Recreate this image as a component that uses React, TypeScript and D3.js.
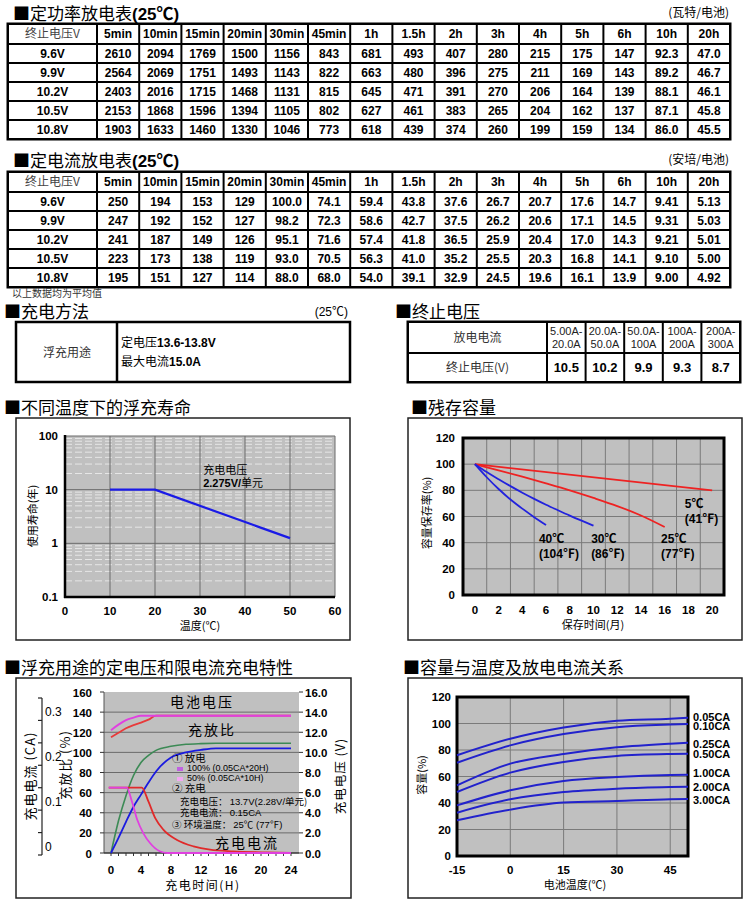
import React from 'react';
import * as d3 from 'd3';

const LATIN = "'Liberation Sans', Arial, 'Noto Sans CJK SC', sans-serif";
const CJK = "'Noto Sans CJK SC', 'Liberation Sans', sans-serif";

// ---------- Data ----------
const durations = ["5min","10min","15min","20min","30min","45min","1h","1.5h","2h","3h","4h","5h","6h","10h","20h"];
const endVoltages = ["9.6V","9.9V","10.2V","10.5V","10.8V"];
const powerRows = [
  ["2610","2094","1769","1500","1156","843","681","493","407","280","215","175","147","92.3","47.0"],
  ["2564","2069","1751","1493","1143","822","663","480","396","275","211","169","143","89.2","46.7"],
  ["2403","2016","1715","1468","1131","815","645","471","391","270","206","164","139","88.1","46.1"],
  ["2153","1868","1596","1394","1105","802","627","461","383","265","204","162","137","87.1","45.8"],
  ["1903","1633","1460","1330","1046","773","618","439","374","260","199","159","134","86.0","45.5"],
];
const currentRows = [
  ["250","194","153","129","100.0","74.1","59.4","43.8","37.6","26.7","20.7","17.6","14.7","9.41","5.13"],
  ["247","192","152","127","98.2","72.3","58.6","42.7","37.5","26.2","20.6","17.1","14.5","9.31","5.03"],
  ["241","187","149","126","95.1","71.6","57.4","41.8","36.5","25.9","20.4","17.0","14.3","9.21","5.01"],
  ["223","173","138","119","93.0","70.5","56.3","41.0","35.2","25.5","20.3","16.8","14.1","9.10","5.00"],
  ["195","151","127","114","88.0","68.0","54.0","39.1","32.9","24.5","19.6","16.1","13.9","9.00","4.92"],
];
const cutoffCurrents = [["5.00A-","20.0A"],["20.0A-","50.0A"],["50.0A-","100A"],["100A-","200A"],["200A-","300A"]];
const cutoffVoltages = ["10.5","10.2","9.9","9.3","8.7"];

// float life
const lifeTemps = [10, 20, 50];
const lifeYears = [10, 10, 1.25];
const lifeXTicks = [0,10,20,30,40,50,60];
const lifeYTicks = [0.1, 1, 10, 100];

// residual capacity
const res5Months = [0, 20];
const res5Vals = [100, 80];
const res25Months = [0,2,4,6,8,10,12,14,16];
const res25Vals = [100,95.3,90.4,85.3,80,74.2,68,60.8,52];
const res30Months = [0,1,2,3,4,5,6,7,8,9,10];
const res30Vals = [100,94,88.5,83.2,78.2,73.5,69,64.8,60.7,56.8,53];
const res40Months = [0,1,2,3,4,5,6];
const res40Vals = [100,90,81,73,66,59.5,53.5];
const resXTicks = [0,2,4,6,8,10,12,14,16,18,20];
const resYTicks = [0,20,40,60,80,100,120];

// charging characteristics
const chgHours = [0,1,2,3,4,5,6,8,10,12,14,16,20,24];
const voltRed = [115,119.5,124,127,129.5,132.5,136.5,136.5,136.5,136.5,136.5,136.5,136.5,136.5];
const voltPink = [122,127.5,132,134.5,136.5,136.5,136.5,136.5,136.5,136.5,136.5,136.5,136.5,136.5];
const ratioGreen = [0,32,57,77,90,97,102,106,108,108.7,109,109,109,109];
const ratioBlue = [0,15,31,46,58,70,81,95,100,102.5,104,104,104,104];
const curHoursRed = [-0.3,4.1,5,5.9,7,8.8,11,13.2,16.3,20.7,24];
const curRed = [65,65,51,34.6,23,13,6.6,3.3,1.7,0.7,0];
const curHoursPink = [-0.3,2.1,2.8,3.5,4.3,5.2,6.5,7.5,24];
const curPink = [65,65,51,33,19.8,9.9,1.7,0,0];
const chgXTicks = [0,4,8,12,16,20,24];
const chgYTicks = [0,20,40,60,80,100,120,140,160];
const chgVTicks = [0,2,4,6,8,10,12,14,16];
const chgCATicks = [0,0.1,0.2,0.3];

// capacity vs temperature
const capTemps = [-15,0,15,30,45,50];
const capSeriesNames = ["0.05CA","0.10CA","0.25CA","0.50CA","1.00CA","2.00CA","3.00CA"];
const cap005 = [76,88.5,97,102,103.6,104.4];
const cap010 = [70.4,83.5,92,97.2,99.2,99.6];
const cap025 = [53.3,69.7,77,82,84.8,85.5];
const cap050 = [48.3,62.9,71,75.5,77,77.2];
const cap100 = [38.2,49.6,56.6,59.6,61.2,61.4];
const cap200 = [32.7,42.8,48.3,50.8,52,52.3];
const cap300 = [27,35,40.3,41.5,42.8,43];
const capXTicks = [-15,0,15,30,45];
const capYTicks = [0,20,40,60,80,100,120];

// ---------- Helpers ----------
function Title({ x, y, text, suffix }: { x: number; y: number; text: string; suffix?: string }) {
  return (
    <text x={x} y={y} fontSize={17} fontFamily={CJK} fill="#000">
      <tspan>■{text}</tspan>
      {suffix ? <tspan fontFamily={LATIN} fontWeight="bold">{suffix}</tspan> : null}
    </text>
  );
}

type Cell = { t: string | string[]; bold?: boolean; color?: string; cjk?: boolean; size?: number };

function GridTable({ x, y, colW, rowH, rows }: { x: number; y: number; colW: number[]; rowH: number[]; rows: Cell[][] }) {
  const xs = [x];
  colW.forEach((w) => xs.push(xs[xs.length - 1] + w));
  const ys = [y];
  rowH.forEach((h) => ys.push(ys[ys.length - 1] + h));
  const W = xs[xs.length - 1] - x;
  const H = ys[ys.length - 1] - y;
  return (
    <g>
      <rect x={x - 1.5} y={y - 1.5} width={W + 3} height={H + 3} fill="#000" />
      {rows.map((r, i) =>
        r.map((c, j) => {
          const cx = (xs[j] + xs[j + 1]) / 2;
          const cy = (ys[i] + ys[i + 1]) / 2;
          const fs = c.size || 12;
          const lines = Array.isArray(c.t) ? c.t : [c.t];
          return (
            <g key={i + '-' + j}>
              <rect x={xs[j] + 1} y={ys[i] + 1} width={colW[j] - 2} height={rowH[i] - 2} fill="#fff" />
              {lines.map((ln, k) => (
                <text
                  key={k}
                  x={cx}
                  y={cy + fs * 0.36 + (k - (lines.length - 1) / 2) * (fs + 2)}
                  textAnchor="middle"
                  fontSize={fs}
                  fontWeight={c.bold ? 'bold' : 'normal'}
                  fontFamily={c.cjk ? CJK : LATIN}
                  fill={c.color || '#000'}
                >
                  {ln}
                </text>
              ))}
            </g>
          );
        })
      )}
    </g>
  );
}

function dischargeTableRows(values: string[][]): Cell[][] {
  const header: Cell[] = [{ t: '终止电压V', cjk: true, color: '#444' }, ...durations.map((d) => ({ t: d, bold: true }))];
  const body = values.map((row, i) => [{ t: endVoltages[i], bold: true }, ...row.map((v) => ({ t: v, bold: true }))]);
  return [header, ...body];
}

const tableColW = [89, ...durations.map(() => 633 / 15)];
const tableRowH = [20, 19, 19, 19, 19, 19];

function RotText({ x, y, text, size = 11, family = CJK, spacing = 0 }: any) {
  return (
    <text transform={`translate(${x},${y}) rotate(-90)`} textAnchor="middle" fontSize={size} fontFamily={family} letterSpacing={spacing} fill="#000">
      {text}
    </text>
  );
}

// ---------- Charts ----------
function LifeChart() {
  const x = d3.scaleLinear().domain([0, 60]).range([65, 335]);
  const y = d3.scaleLog().domain([0.1, 100]).range([597, 436]);
  const minors: number[] = [];
  [0.1, 1, 10].forEach((d) => { for (let k = 2; k <= 9; k++) minors.push(d * k); });
  const line = d3.line<number>().x((_, i) => x(lifeTemps[i])).y((v) => y(v));
  return (
    <g>
      <rect x={16} y={418} width={334} height={222} fill="#fff" stroke="#222" strokeWidth={1.5} />
      <rect x={x(0)} y={y(100)} width={x(60) - x(0)} height={y(0.1) - y(100)} fill="#c0c0c0" />
      {minors.map((m, i) => (
        <line key={'m' + i} x1={x(0)} x2={x(60)} y1={y(m)} y2={y(m)} stroke="#e6e6e6" strokeWidth={1} strokeDasharray="7,3" />
      ))}
      {[1, 10, 100].map((m) => (
        <line key={'M' + m} x1={x(0)} x2={x(60)} y1={y(m)} y2={y(m)} stroke="#6a6a6a" strokeWidth={1} />
      ))}
      {lifeXTicks.filter((t) => t > 0).map((t) => (
        <line key={'v' + t} x1={x(t)} x2={x(t)} y1={y(100)} y2={y(0.1)} stroke="#6a6a6a" strokeWidth={1} />
      ))}
      <line x1={x(0)} x2={x(0)} y1={y(100) - 1} y2={y(0.1) + 1} stroke="#000" strokeWidth={2.5} />
      <line x1={x(0) - 1} x2={x(60)} y1={y(0.1)} y2={y(0.1)} stroke="#000" strokeWidth={2.5} />
      <path d={line(lifeYears) || ''} fill="none" stroke="#1a1ae6" strokeWidth={2.2} />
      {lifeYTicks.map((t) => (
        <text key={'yt' + t} x={58} y={y(t) + 4} textAnchor="end" fontSize={11.5} fontWeight="bold" fontFamily={LATIN}>{String(t)}</text>
      ))}
      {lifeXTicks.map((t) => (
        <text key={'xt' + t} x={x(t)} y={615} textAnchor="middle" fontSize={11.5} fontWeight="bold" fontFamily={LATIN}>{t}</text>
      ))}
      <text x={x(30.7)} y={y(20)} fontSize={11} fontFamily={CJK}>充电电压</text>
      <text x={x(30.7)} y={y(11.2)} fontSize={11} fontFamily={LATIN} fontWeight="bold">2.275V/<tspan fontFamily={CJK} fontWeight="normal">单元</tspan></text>
      <text x={200} y={630} textAnchor="middle" fontSize={11} fontFamily={CJK}>温度(℃)</text>
      <RotText x={37} y={516} text="使用寿命(年)" size={11} />
    </g>
  );
}

function ResidualChart() {
  const x = d3.scaleLinear().domain([-1, 21]).range([463, 724]);
  const y = d3.scaleLinear().domain([0, 120]).range([595, 438]);
  const mk = (xs: number[]) => d3.line<number>().x((_, i) => x(xs[i])).y((v) => y(v)).curve(d3.curveMonotoneX);
  const oddMonths = [1,3,5,7,9,11,13,15,17,19];
  const lbl = (tx: number, ty: number, a: string, b: string) => (
    <g>
      <text x={tx} y={ty} fontSize={12} fontWeight="bold" fontFamily={LATIN}>{a}</text>
      <text x={tx} y={ty + 15} fontSize={12} fontWeight="bold" fontFamily={LATIN}>{b}</text>
    </g>
  );
  return (
    <g>
      <rect x={408} y={418} width={334} height={222} fill="#fff" stroke="#222" strokeWidth={1.5} />
      <rect x={x(-1)} y={y(120)} width={x(21) - x(-1)} height={y(0) - y(120)} fill="#c0c0c0" />
      {oddMonths.map((m) => (
        <line key={'v' + m} x1={x(m)} x2={x(m)} y1={y(120)} y2={y(0)} stroke="#7a7a7a" strokeWidth={1} />
      ))}
      {resYTicks.filter((t) => t > 0 && t < 120).map((t) => (
        <line key={'h' + t} x1={x(-1)} x2={x(21)} y1={y(t)} y2={y(t)} stroke="#7a7a7a" strokeWidth={1} />
      ))}
      <rect x={x(-1)} y={y(120)} width={x(21) - x(-1)} height={y(0) - y(120)} fill="none" stroke="#000" strokeWidth={3} />
      <path d={mk(res5Months)(res5Vals) || ''} fill="none" stroke="#ee2222" strokeWidth={1.8} />
      <path d={mk(res25Months)(res25Vals) || ''} fill="none" stroke="#ee2222" strokeWidth={1.8} />
      <path d={mk(res30Months)(res30Vals) || ''} fill="none" stroke="#2222dd" strokeWidth={1.8} />
      <path d={mk(res40Months)(res40Vals) || ''} fill="none" stroke="#2222dd" strokeWidth={1.8} />
      {resYTicks.map((t) => (
        <text key={'yt' + t} x={455} y={y(t) + 4} textAnchor="end" fontSize={11.5} fontWeight="bold" fontFamily={LATIN}>{t}</text>
      ))}
      {resXTicks.map((t) => (
        <text key={'xt' + t} x={x(t)} y={614} textAnchor="middle" fontSize={11.5} fontWeight="bold" fontFamily={LATIN}>{t}</text>
      ))}
      {lbl(x(17.7), 508, '5℃', '(41℉)')}
      {lbl(x(15.7), 543, '25℃', '(77℉)')}
      {lbl(x(9.8), 543, '30℃', '(86℉)')}
      {lbl(x(5.4), 543, '40℃', '(104℉)')}
      <text x={593} y={629} textAnchor="middle" fontSize={11} fontFamily={CJK}>保存时间(月)</text>
      <RotText x={431} y={513} text="容量保存率(%)" size={11} />
    </g>
  );
}

function ChargeChart() {
  const x = d3.scaleLinear().domain([0, 24]).range([111, 291]);
  const y = d3.scaleLinear().domain([0, 160]).range([853, 692]);
  const v = d3.scaleLinear().domain([0, 16]).range([853, 692]);
  const ca = d3.scaleLinear().domain([0, 0.35]).range([855, 698]);
  const mk = (xs: number[]) => d3.line<number>().x((_, i) => x(xs[i])).y((d) => y(d)).curve(d3.curveMonotoneX);
  const left = 104, right = 299;
  const minorTicks = d3.range(0, 25, 1);
  return (
    <g>
      <rect x={16} y={678} width={335} height={220} fill="#fff" stroke="#222" strokeWidth={1.5} />
      <rect x={left} y={y(160)} width={right - left} height={y(0) - y(160)} fill="#c0c0c0" />
      {chgYTicks.filter((t) => t > 0 && t < 160).map((t) => (
        <line key={'h' + t} x1={left} x2={right} y1={y(t)} y2={y(t)} stroke="#6a6a6a" strokeWidth={1} />
      ))}
      <line x1={left} x2={left} y1={y(160)} y2={y(0)} stroke="#555" strokeWidth={1} />
      <line x1={left} x2={right} y1={y(0)} y2={y(0)} stroke="#333" strokeWidth={1.5} />
      {minorTicks.map((t) => (
        <line key={'mt' + t} x1={x(t)} x2={x(t)} y1={y(0)} y2={y(0) + 3} stroke="#333" strokeWidth={1} />
      ))}
      {chgYTicks.map((t) => (
        <line key={'lt' + t} x1={left - 4} x2={left} y1={y(t)} y2={y(t)} stroke="#333" strokeWidth={1} />
      ))}
      {chgVTicks.map((t) => (
        <line key={'rt' + t} x1={right} x2={right + 4} y1={v(t)} y2={v(t)} stroke="#333" strokeWidth={1} />
      ))}
      {/* CA axis */}
      <line x1={42} x2={42} y1={698} y2={855} stroke="#222" strokeWidth={1.2} />
      {d3.range(0, 0.351, 0.05).map((t, i) => (
        <line key={'ca' + i} x1={38} x2={42} y1={ca(t)} y2={ca(t)} stroke="#222" strokeWidth={1.2} />
      ))}
      {chgCATicks.map((t) => (
        <text key={'cal' + t} x={45} y={ca(t) - 4} fontSize={12} fontFamily={LATIN}>{String(t)}</text>
      ))}
      {/* series */}
      <path d={mk(chgHours)(voltRed) || ''} fill="none" stroke="#e83a3a" strokeWidth={1.8} />
      <path d={mk(chgHours)(voltPink) || ''} fill="none" stroke="#e040e0" strokeWidth={2} />
      <path d={mk(chgHours)(ratioGreen) || ''} fill="none" stroke="#3c8a55" strokeWidth={1.6} />
      <path d={mk(chgHours)(ratioBlue) || ''} fill="none" stroke="#1a1ae0" strokeWidth={1.8} />
      <path d={mk(curHoursRed)(curRed) || ''} fill="none" stroke="#e02a2a" strokeWidth={1.8} />
      <path d={mk(curHoursPink)(curPink) || ''} fill="none" stroke="#e040e0" strokeWidth={1.8} />
      {/* tick labels */}
      {chgYTicks.map((t) => (
        <text key={'yl' + t} x={92} y={y(t) + 4.5} textAnchor="end" fontSize={11.5} fontWeight="bold" fontFamily={LATIN}>{t}</text>
      ))}
      {chgVTicks.map((t) => (
        <text key={'vl' + t} x={305} y={v(t) + 4.5} fontSize={11.5} fontWeight="bold" fontFamily={LATIN}>{t.toFixed(1)}</text>
      ))}
      {chgXTicks.map((t) => (
        <text key={'xl' + t} x={x(t)} y={874} textAnchor="middle" fontSize={11.5} fontWeight="bold" fontFamily={LATIN}>{t}</text>
      ))}
      {/* annotations */}
      <text x={202} y={707} textAnchor="middle" fontSize={14} fontFamily={CJK} letterSpacing={2}>电池电压</text>
      <text x={212} y={735} textAnchor="middle" fontSize={14} fontFamily={CJK} letterSpacing={2}>充放比</text>
      <text x={247} y={848} textAnchor="middle" fontSize={14} fontFamily={CJK} letterSpacing={2}>充电电流</text>
      <text x={172} y={762} fontSize={10.5} fontFamily={CJK}>① 放电</text>
      <rect x={177} y={767} width={6} height={4} fill="#c060e0" />
      <text x={187} y={771} fontSize={9} fontFamily={LATIN}>100% (0.05CA*20H)</text>
      <rect x={177} y={777} width={6} height={4} fill="#f2a8f2" />
      <text x={187} y={781} fontSize={9} fontFamily={LATIN}>50% (0.05CA*10H)</text>
      <text x={172} y={792} fontSize={10.5} fontFamily={CJK}>② 充电</text>
      <text x={180} y={804.5} fontSize={9.5} fontFamily={CJK}>充电电压： <tspan fontFamily={LATIN}>13.7V(2.28V/</tspan>单元)</text>
      <text x={180} y={816} fontSize={9.5} fontFamily={CJK}>充电电流： <tspan fontFamily={LATIN}>0.15CA</tspan></text>
      <text x={172} y={828} fontSize={9.5} fontFamily={CJK}>③ 环境温度： <tspan fontFamily={LATIN}>25℃ (77℉)</tspan></text>
      {/* axis titles */}
      <text x={203} y={890} textAnchor="middle" fontSize={12} fontFamily={CJK} letterSpacing={1.5}>充电时间(H)</text>
      <RotText x={35} y={776} text="充电电流 (CA)" size={13} spacing={1} />
      <RotText x={70} y={765} text="充放比 (%)" size={13} spacing={1} />
      <RotText x={345} y={776} text="充电电压 (V)" size={12.5} spacing={1} />
    </g>
  );
}

function CapacityChart() {
  const x = d3.scaleLinear().domain([-15, 50]).range([457, 688]);
  const y = d3.scaleLinear().domain([0, 120]).range([856, 697]);
  const line = d3.line<number>().x((_, i) => x(capTemps[i])).y((d) => y(d)).curve(d3.curveMonotoneX);
  const series = [cap005, cap010, cap025, cap050, cap100, cap200, cap300];
  const labelY = [720.5, 730, 748, 757.5, 777, 791, 804];
  return (
    <g>
      <rect x={408} y={678} width={334} height={220} fill="#fff" stroke="#222" strokeWidth={1.5} />
      <rect x={x(-15)} y={y(120)} width={x(50) - x(-15)} height={y(0) - y(120)} fill="#c0c0c0" />
      {capXTicks.filter((t) => t > -15).map((t) => (
        <line key={'v' + t} x1={x(t)} x2={x(t)} y1={y(120)} y2={y(0)} stroke="#7a7a7a" strokeWidth={1} />
      ))}
      {capYTicks.filter((t) => t > 0 && t < 120).map((t) => (
        <line key={'h' + t} x1={x(-15)} x2={x(50)} y1={y(t)} y2={y(t)} stroke="#7a7a7a" strokeWidth={1} />
      ))}
      <rect x={x(-15)} y={y(120)} width={x(50) - x(-15)} height={y(0) - y(120)} fill="none" stroke="#000" strokeWidth={3} />
      {series.map((s, i) => (
        <path key={'s' + i} d={line(s) || ''} fill="none" stroke="#2222cc" strokeWidth={2} />
      ))}
      {capSeriesNames.map((n, i) => (
        <text key={'n' + i} x={693} y={labelY[i]} fontSize={11} fontWeight="bold" fontFamily={LATIN}>{n}</text>
      ))}
      {capYTicks.map((t) => (
        <text key={'yt' + t} x={451} y={y(t) + 4} textAnchor="end" fontSize={11.5} fontWeight="bold" fontFamily={LATIN}>{t}</text>
      ))}
      {capXTicks.map((t) => (
        <text key={'xt' + t} x={x(t)} y={874} textAnchor="middle" fontSize={11.5} fontWeight="bold" fontFamily={LATIN}>{t}</text>
      ))}
      <text x={575} y={889} textAnchor="middle" fontSize={11} fontFamily={CJK}>电池温度(℃)</text>
      <RotText x={426} y={775} text="容量(%)" size={11} />
    </g>
  );
}

export default function App() {
  const cutoffRows: Cell[][] = [
    [{ t: '放电电流', cjk: true, color: '#333' }, ...cutoffCurrents.map((c) => ({ t: c, size: 11, color: '#222' }))],
    [{ t: '终止电压(V)', cjk: true, color: '#333' }, ...cutoffVoltages.map((c) => ({ t: c, bold: true, size: 13 }))],
  ];
  const cutW = (740 - 547) / 5;
  return (
    <svg width={750} height={911} style={{ position: 'absolute', left: 0, top: 0, background: '#fff' }}>
      <rect x={0} y={0} width={750} height={911} fill="#fff" />
      {/* table 1 */}
      <Title x={13} y={20} text="定功率放电表" suffix="(25℃)" />
      <text x={729} y={17} textAnchor="end" fontSize={12} fontFamily={CJK}>(瓦特/电池)</text>
      <GridTable x={8} y={24} colW={tableColW} rowH={tableRowH} rows={dischargeTableRows(powerRows)} />
      {/* table 2 */}
      <Title x={13} y={167} text="定电流放电表" suffix="(25℃)" />
      <text x={729} y={164} textAnchor="end" fontSize={12} fontFamily={CJK}>(安培/电池)</text>
      <GridTable x={8} y={172} colW={tableColW} rowH={tableRowH} rows={dischargeTableRows(currentRows)} />
      <text x={12} y={297} fontSize={10} fontFamily={CJK} fill="#333">以上数据均为平均值</text>
      {/* charging method */}
      <Title x={4} y={318} text="充电方法" />
      <text x={348} y={316} textAnchor="end" fontSize={12} fontFamily={LATIN}>(25℃)</text>
      <rect x={16} y={322} width={334} height={60} fill="#fff" stroke="#000" strokeWidth={2.5} />
      <line x1={117} x2={117} y1={322} y2={382} stroke="#000" strokeWidth={2.5} />
      <text x={67} y={357} textAnchor="middle" fontSize={12} fontFamily={CJK} fill="#333">浮充用途</text>
      <text x={121} y={347} fontSize={12} fontFamily={CJK}>定电压<tspan fontFamily={LATIN} fontWeight="bold">13.6-13.8V</tspan></text>
      <text x={121} y={366} fontSize={12} fontFamily={CJK}>最大电流<tspan fontFamily={LATIN} fontWeight="bold">15.0A</tspan></text>
      {/* cutoff voltage */}
      <Title x={395} y={318} text="终止电压" />
      <GridTable x={408} y={322} colW={[139, cutW, cutW, cutW, cutW, cutW]} rowH={[31, 29]} rows={cutoffRows} />
      {/* charts */}
      <Title x={4} y={414} text="不同温度下的浮充寿命" />
      <LifeChart />
      <Title x={411} y={414} text="残存容量" />
      <ResidualChart />
      <Title x={4} y={674} text="浮充用途的定电压和限电流充电特性" />
      <ChargeChart />
      <Title x={403} y={674} text="容量与温度及放电电流关系" />
      <CapacityChart />
    </svg>
  );
}
